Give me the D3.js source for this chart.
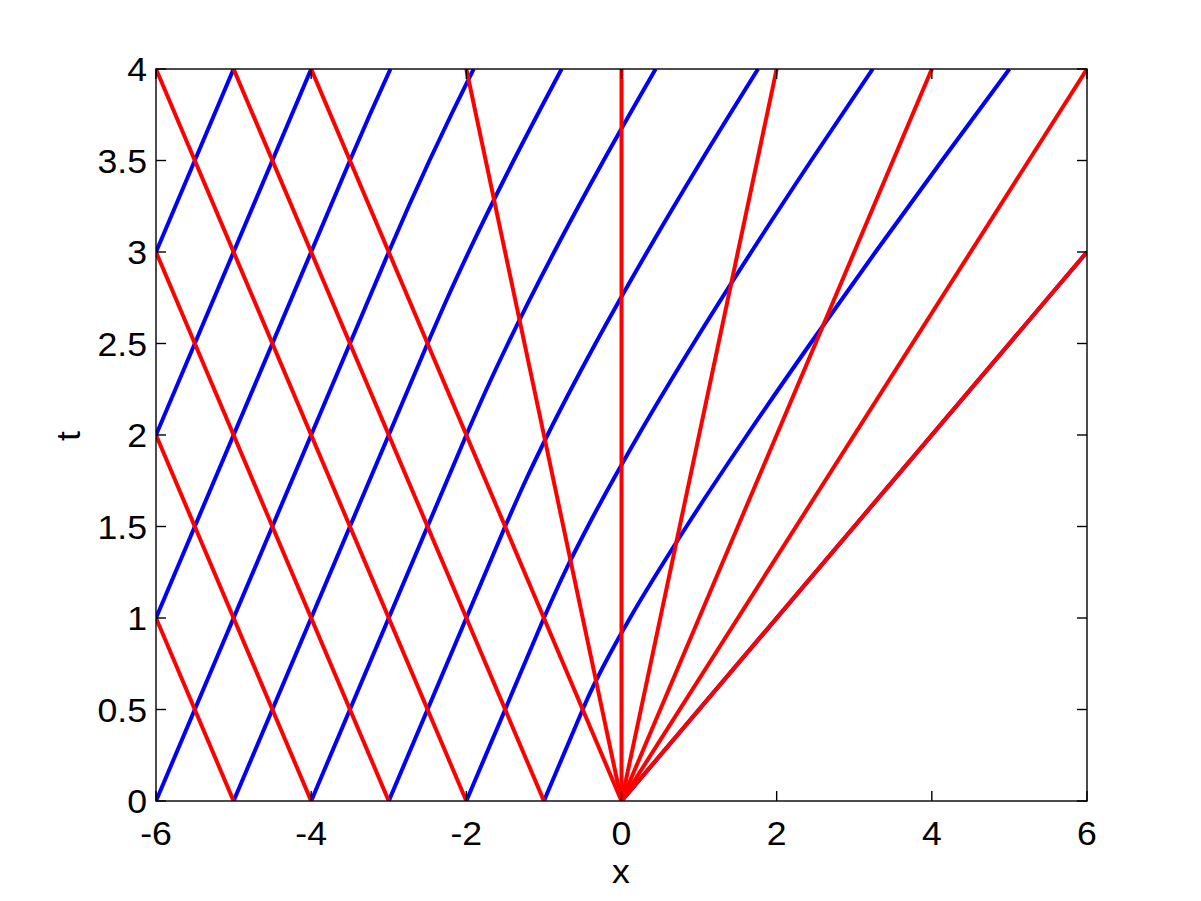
<!DOCTYPE html>
<html><head><meta charset="utf-8">
<script src="https://cdn.jsdelivr.net/npm/d3@7"></script>
<style>body{margin:0;background:#fff}svg{display:block}text{font-family:"Liberation Sans",Arial,sans-serif;fill:#000}</style>
</head><body>
<svg id="c" width="1201" height="901"></svg>
<script>
// Axis ticks
const xTicks = [-6, -4, -2, 0, 2, 4, 6];
const tTicks = [0, 0.5, 1, 1.5, 2, 2.5, 3, 3.5, 4];

// Red characteristics: straight lines given by start point [x0, t0] and end point [x1, t1]
const redLines = [
  [[-5, 0], [-6, 1]],
  [[-4, 0], [-6, 2]],
  [[-3, 0], [-6, 3]],
  [[-2, 0], [-6, 4]],
  [[-1, 0], [-5, 4]],
  [[0, 0], [-4, 4]],
  [[0, 0], [-2, 4]],
  [[0, 0], [0, 4]],
  [[0, 0], [2, 4]],
  [[0, 0], [4, 4]],
  [[0, 0], [6, 4]],
  [[0, 0], [6, 3]]
];

// Blue characteristics: [x, t] points
const blueA = [[-6, 3], [-5, 4]];
const blueB = [[-6, 2], [-4, 4]];
const blueC = [[-6, 1], [-3.5, 3.5], [-3.244, 3.75], [-2.978, 4]];
const blueD = [[-6, 0], [-3, 3], [-2.743, 3.25], [-2.475, 3.5], [-2.195, 3.75], [-1.906, 4]];
const blueE = [[-5, 0], [-2.5, 2.5], [-2.242, 2.75], [-1.970, 3], [-1.390, 3.5], [-0.772, 4]];
const blueF = [[-4, 0], [-2, 2], [-1.740, 2.25], [-1.463, 2.5], [-0.868, 3], [-0.231, 3.5], [0.440, 4]];
const blueG = [[-3, 0], [-1.5, 1.5], [-1.237, 1.75], [-0.953, 2], [-0.335, 2.5], [0.330, 3], [1.031, 3.5], [1.760, 4]];
const blueH = [[-2, 0], [-1, 1], [-0.732, 1.25], [-0.434, 1.5], [0.220, 2], [0.928, 2.5], [1.673, 3], [2.445, 3.5], [3.238, 4]];
const blueI = [[-1, 0], [-0.5, 0.5], [-0.394, 0.6], [-0.217, 0.75], [0.110, 1], [0.837, 1.5], [1.619, 2], [2.435, 2.5], [3.274, 3], [4.131, 3.5], [5.000, 4]];
const blueJ = [[0, 0], [6, 3]];
const blueCurves = [blueA, blueB, blueC, blueD, blueE, blueF, blueG, blueH, blueI, blueJ];

const L = 156, R = 1087, T = 69, B = 801;
const svg = d3.select("#c");
const x = d3.scaleLinear().domain([-6, 6]).range([L, R]);
const y = d3.scaleLinear().domain([0, 4]).range([B, T]);

svg.append("defs").append("clipPath").attr("id", "clip")
  .append("rect").attr("x", L).attr("y", T).attr("width", R - L).attr("height", B - T);

const plot = svg.append("g").attr("clip-path", "url(#clip)");
const LW = 4;

blueCurves.forEach(pts => {
  const straight = pts.slice(0, 2);
  const curved = pts.slice(1);
  const lineS = d3.line().x(d => x(d[0])).y(d => y(d[1]));
  plot.append("path").attr("d", lineS(straight))
    .attr("fill", "none").attr("stroke", "#0000ff").attr("stroke-width", LW);
  if (curved.length > 1) {
    const lineC = d3.line().x(d => x(d[0])).y(d => y(d[1])).curve(d3.curveMonotoneY);
    plot.append("path").attr("d", lineC(curved))
      .attr("fill", "none").attr("stroke", "#0000ff").attr("stroke-width", LW);
  }
});

redLines.forEach(seg => {
  plot.append("path").attr("d", d3.line().x(d => x(d[0])).y(d => y(d[1]))(seg))
    .attr("fill", "none").attr("stroke", "#ff0000").attr("stroke-width", LW);
});

// axes box
const axG = svg.append("g");
axG.append("rect").attr("x", L).attr("y", T).attr("width", R - L).attr("height", B - T)
  .attr("fill", "none").attr("stroke", "#000").attr("stroke-width", 1.4);

const tk = 10, FS = 33, SX = 1.08;
function label(px, py, anchor, txt) {
  axG.append("text").attr("transform", `translate(${px},${py}) scale(${SX},1)`)
    .attr("text-anchor", anchor).attr("font-size", FS).text(txt);
}
xTicks.forEach(v => {
  axG.append("line").attr("x1", x(v)).attr("x2", x(v)).attr("y1", B).attr("y2", B - tk).attr("stroke", "#000").attr("stroke-width", 1.4);
  axG.append("line").attr("x1", x(v)).attr("x2", x(v)).attr("y1", T).attr("y2", T + tk).attr("stroke", "#000").attr("stroke-width", 1.4);
  label(x(v), 845, "middle", v);
});
tTicks.forEach(v => {
  axG.append("line").attr("x1", L).attr("x2", L + tk).attr("y1", y(v)).attr("y2", y(v)).attr("stroke", "#000").attr("stroke-width", 1.4);
  axG.append("line").attr("x1", R).attr("x2", R - tk).attr("y1", y(v)).attr("y2", y(v)).attr("stroke", "#000").attr("stroke-width", 1.4);
  label(147, y(v) + 12, "end", v);
});

svg.append("text").attr("transform", `translate(621,883) scale(${SX},1)`).attr("text-anchor", "middle")
  .attr("font-size", FS).text("x");
svg.append("text").attr("transform", `translate(80,436) rotate(-90) scale(${SX},1)`).attr("text-anchor", "middle")
  .attr("font-size", FS).text("t");
</script>
</body></html>
